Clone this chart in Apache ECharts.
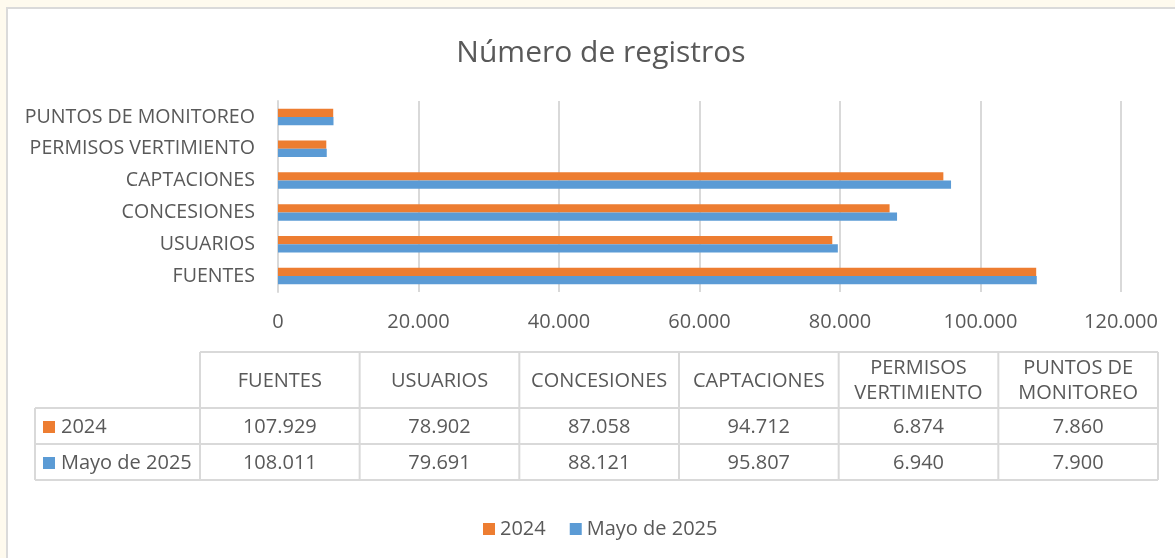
<!DOCTYPE html>
<html>
<head>
<meta charset="utf-8">
<script src="https://cdn.jsdelivr.net/npm/echarts@6/dist/echarts.min.js"></script>
<style>
  html, body { margin: 0; padding: 0; background: #FEFAEE; }
  #frame { position: absolute; left: 6px; top: 7px; width: 1175px; height: 560px;
           background: #ffffff; border-left: 2px solid #DADADA; border-top: 2px solid #DADADA; }
  #chart { position: absolute; left: 0; top: 0; width: 1175px; height: 558px; }
</style>
</head>
<body>
<div id="frame"></div>
<div id="chart"></div>
<script>
// ---- data ----
const categories = ['FUENTES', 'USUARIOS', 'CONCESIONES', 'CAPTACIONES', 'PERMISOS VERTIMIENTO', 'PUNTOS DE MONITOREO'];
const tableHeaders = ['FUENTES', 'USUARIOS', 'CONCESIONES', 'CAPTACIONES', 'PERMISOS\nVERTIMIENTO', 'PUNTOS DE\nMONITOREO'];
const seriesNames = ['2024', 'Mayo de 2025'];
const values2024 = [107929, 78902, 87058, 94712, 6874, 7860];
const valuesMayo2025 = [108011, 79691, 88121, 95807, 6940, 7900];
const valueTicks = { min: 0, max: 120000, interval: 20000 };

// ---- style ----
const FONT = '"Open Sans", "Noto Sans", sans-serif';
const TXT = '#595959';
const LINE = '#D9D9D9';
const COLORS = ['#ED7D31', '#5B9BD5'];

function fmt(v) {
  return String(v).replace(/\B(?=(\d{3})+(?!\d))/g, '.');
}

// ---- data table (built from arrays) ----
const tLeft = 35, tCol0 = 200, tRight = 1158;
const tTop = 352, tHeadBottom = 408, tRowH = 36;
const colW = (tRight - tCol0) / categories.length;
const rows = [values2024, valuesMayo2025];
const tBottom = tHeadBottom + rows.length * tRowH;
const graphics = [];
function hline(x1, x2, y) {
  graphics.push({ type: 'line', shape: { x1: x1, y1: y, x2: x2, y2: y },
    style: { stroke: LINE, lineWidth: 2 }, silent: true });
}
function vline(x, y1, y2) {
  graphics.push({ type: 'line', shape: { x1: x, y1: y1, x2: x, y2: y2 },
    style: { stroke: LINE, lineWidth: 2 }, silent: true });
}
hline(tCol0, tRight, tTop);
for (let r = 0; r <= rows.length; r++) hline(tLeft, tRight, tHeadBottom + r * tRowH);
vline(tLeft, tHeadBottom, tBottom);
for (let c = 0; c <= categories.length; c++) vline(tCol0 + c * colW, tTop, tBottom);
tableHeaders.forEach(function (h, c) {
  graphics.push({ type: 'text', x: tCol0 + (c + 0.5) * colW, y: (tTop + tHeadBottom) / 2 + 1,
    style: { text: h, fill: TXT, font: '20px ' + FONT, align: 'center', verticalAlign: 'middle', lineHeight: 25 },
    silent: true });
});
rows.forEach(function (vals, r) {
  const cy = tHeadBottom + (r + 0.5) * tRowH + 1;
  graphics.push({ type: 'rect', shape: { x: 43, y: cy - 6, width: 12, height: 12 },
    style: { fill: COLORS[r] }, silent: true });
  graphics.push({ type: 'text', x: 61, y: cy,
    style: { text: seriesNames[r], fill: TXT, font: '20px ' + FONT, align: 'left', verticalAlign: 'middle' },
    silent: true });
  vals.forEach(function (v, c) {
    graphics.push({ type: 'text', x: tCol0 + (c + 0.5) * colW, y: cy,
      style: { text: fmt(v), fill: TXT, font: '20px ' + FONT, align: 'center', verticalAlign: 'middle' },
      silent: true });
  });
});

const chart = echarts.init(document.getElementById('chart'), null, { renderer: 'canvas' });
chart.setOption({
  backgroundColor: 'transparent',
  animation: false,
  title: {
    text: 'Número de registros',
    left: 596, top: 33, textAlign: 'center',
    textStyle: { fontFamily: FONT, fontSize: 30, fontWeight: 'normal', color: TXT }
  },
  legend: {
    data: seriesNames,
    left: 483, top: 519, padding: 0,
    itemWidth: 12, itemHeight: 12, itemGap: 24, icon: 'rect',
    textStyle: { fontFamily: FONT, fontSize: 20, color: TXT }
  },
  grid: { left: 278, top: 101, width: 843, height: 191, containLabel: false },
  xAxis: {
    type: 'value', min: valueTicks.min, max: valueTicks.max, interval: valueTicks.interval,
    axisLine: { show: false }, axisTick: { show: false },
    splitLine: { show: true, lineStyle: { color: LINE, width: 2 } },
    axisLabel: { color: TXT, fontFamily: FONT, fontSize: 20, margin: 20, formatter: function (v) { return fmt(v); } }
  },
  yAxis: {
    type: 'category', data: categories,
    axisLine: { show: true, lineStyle: { color: LINE, width: 2 } },
    axisTick: { show: false },
    axisLabel: { color: TXT, fontFamily: FONT, fontSize: 19.6, margin: 23 }
  },
  graphic: graphics,
  series: [
    { name: seriesNames[0], type: 'bar', data: values2024, itemStyle: { color: COLORS[0] },
      barGap: '0%', barCategoryGap: '48%' },
    { name: seriesNames[1], type: 'bar', data: valuesMayo2025, itemStyle: { color: COLORS[1] },
      barGap: '0%', barCategoryGap: '48%' }
  ]
});
</script>
</body>
</html>
